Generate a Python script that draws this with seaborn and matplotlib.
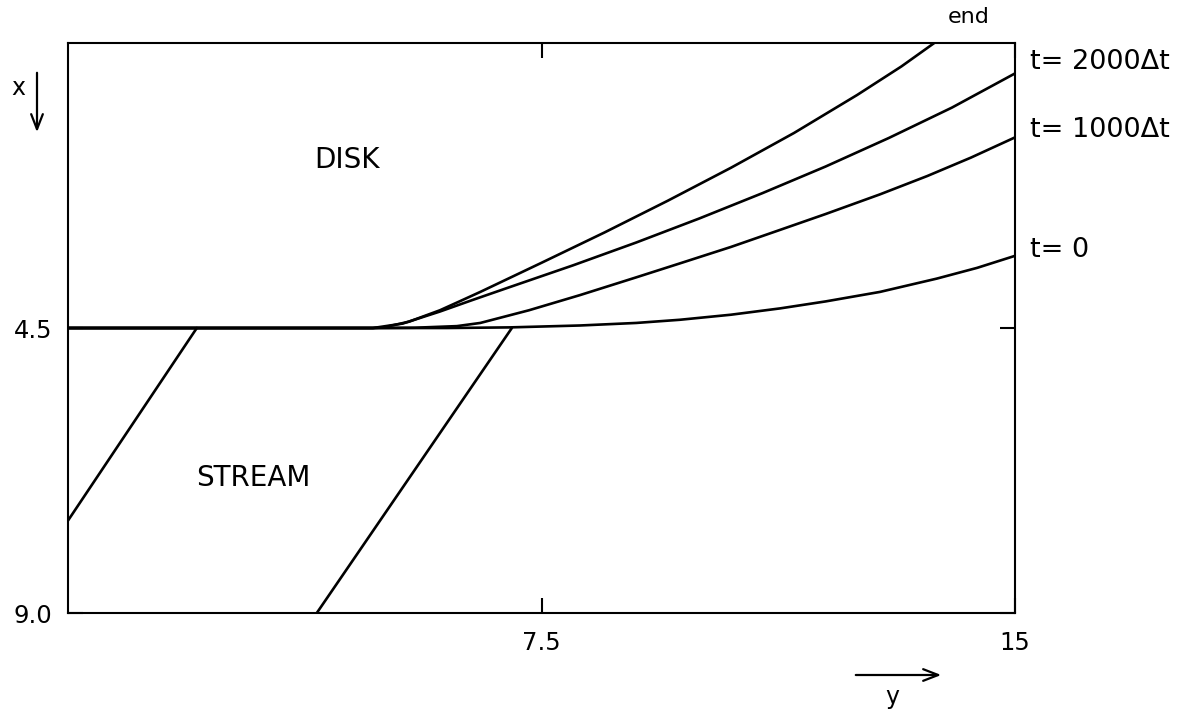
import pandas as pd
import matplotlib
matplotlib.use("Agg")
import matplotlib.pyplot as plt
import seaborn as sns

sns.set_theme(style="white")
plt.rcParams['font.family'] = ['DejaVu Sans']
plt.rcParams['text.color'] = 'black'
plt.rcParams['xtick.color'] = 'black'
plt.rcParams['ytick.color'] = 'black'

# Disk/stream interface position x along y at successive times
y_t0 = [0.0, 4.83, 6.0, 7.0, 8.11, 9.0, 9.69, 10.5, 11.28, 12.0, 12.86, 13.76, 14.4, 15.0]
x_t0 = [4.5, 4.5, 4.5, 4.49, 4.46, 4.42, 4.37, 4.29, 4.19, 4.08, 3.93, 3.72, 3.55, 3.36]

y_t1000 = [0.0, 4.83, 5.5, 6.16, 6.53, 7.3, 8.11, 9.0, 9.69, 10.5, 11.28, 12.0, 12.86, 13.61, 14.3, 15.0]
x_t1000 = [4.5, 4.5, 4.495, 4.47, 4.42, 4.22, 3.98, 3.70, 3.48, 3.22, 2.95, 2.70, 2.39, 2.10, 1.81, 1.49]

y_t2000 = [0.0, 4.83, 5.3, 5.89, 6.4, 6.95, 8.0, 9.0, 10.0, 11.0, 12.0, 13.0, 14.0, 15.0]
x_t2000 = [4.5, 4.5, 4.43, 4.24, 4.06, 3.87, 3.51, 3.15, 2.77, 2.37, 1.95, 1.50, 1.02, 0.48]

y_end = [0.0, 4.83, 5.0, 5.4, 5.89, 6.2, 6.53, 7.5, 8.5, 9.5, 10.5, 11.5, 12.5, 13.2, 13.72]
x_end = [4.5, 4.5, 4.49, 4.40, 4.22, 4.08, 3.93, 3.47, 2.99, 2.49, 1.97, 1.42, 0.82, 0.37, 0.0]

# Stream lines crossing the stream region
y_stream1 = [0.0, 2.04]
x_stream1 = [7.54, 4.5]
y_stream2 = [3.94, 7.03]
x_stream2 = [9.0, 4.5]

curve_names = ["t=0", "t=1000", "t=2000", "end"]
curve_labels = ["t= 0", "t= 1000\u0394t", "t= 2000\u0394t", "end"]

frames = []
for name, ys, xs in zip(curve_names,
                        [y_t0, y_t1000, y_t2000, y_end],
                        [x_t0, x_t1000, x_t2000, x_end]):
    frames.append(pd.DataFrame({"y": ys, "x": xs, "curve": name}))
interface = pd.concat(frames, ignore_index=True)

streams = pd.concat([
    pd.DataFrame({"y": y_stream1, "x": x_stream1, "line": "s1"}),
    pd.DataFrame({"y": y_stream2, "x": x_stream2, "line": "s2"}),
], ignore_index=True)

fig = plt.figure(figsize=(11.89, 7.12), dpi=100)
ax = fig.add_axes([0.0572, 0.139, 0.7965, 0.8006])

sns.lineplot(data=interface, x="y", y="x", hue="curve", palette=["black"] * 4,
             sort=False, estimator=None, legend=False, linewidth=1.9, ax=ax,
             solid_joinstyle="round", solid_capstyle="round")
sns.lineplot(data=streams, x="y", y="x", hue="line", palette=["black"] * 2,
             sort=False, estimator=None, legend=False, linewidth=1.9, ax=ax)

ax.set_xlim(0, 15)
ax.set_ylim(9, 0)
ax.set_xlabel("")
ax.set_ylabel("")
ax.set_xticks([7.5, 15])
ax.set_xticklabels(["7.5", "15"], fontsize=17.5)
ax.set_yticks([4.5, 9.0])
ax.set_yticklabels(["4.5", "9.0"], fontsize=17.5)
ax.tick_params(axis="both", which="both", direction="in", length=11, width=1.5,
               bottom=True, left=True, top=True, right=True,
               labeltop=False, labelright=False, colors="black")
ax.tick_params(axis="x", pad=13)
ax.tick_params(axis="y", pad=11)
for sp in ax.spines.values():
    sp.set_color("black")
    sp.set_linewidth(1.5)

# Region labels
ax.text(4.42, 1.85, "DISK", fontsize=20, ha="center", va="center")
ax.text(2.93, 6.87, "STREAM", fontsize=20, ha="center", va="center")

# Curve labels beyond the right edge
ax.text(15.24, 3.27, curve_labels[0], fontsize=19.5, ha="left", va="center", clip_on=False)
ax.text(15.24, 1.37, curve_labels[1], fontsize=19.5, ha="left", va="center", clip_on=False)
ax.text(15.24, 0.30, curve_labels[2], fontsize=19.5, ha="left", va="center", clip_on=False)
ax.text(14.26, -0.41, curve_labels[3], fontsize=16, ha="center", va="center", clip_on=False)

# Axis direction arrows
arrow = dict(arrowstyle="->,head_length=0.9,head_width=0.35", color="black", lw=1.6)
fig.text(18 / 1189, 1 - 88 / 712, "x", fontsize=17, ha="center", va="center")
ax.annotate("", xy=(37 / 1189, 1 - 135 / 712), xytext=(37 / 1189, 1 - 70 / 712),
            xycoords="figure fraction", textcoords="figure fraction", arrowprops=arrow)
fig.text(892 / 1189, 1 - 697 / 712, "y", fontsize=17, ha="center", va="center")
ax.annotate("", xy=(944 / 1189, 1 - 675 / 712), xytext=(853 / 1189, 1 - 675 / 712),
            xycoords="figure fraction", textcoords="figure fraction", arrowprops=arrow)

fig.savefig("out.png", dpi=100, facecolor="white")
